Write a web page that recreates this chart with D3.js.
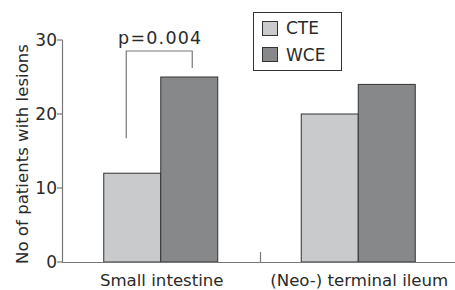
<!DOCTYPE html>
<html>
<head>
<meta charset="utf-8">
<script src="https://cdn.jsdelivr.net/npm/d3@7.9.0/dist/d3.min.js"></script>
<style>
  body { margin: 0; background: #fff; }
  text { font-family: "DejaVu Sans", sans-serif; fill: #2a2a2a; }
</style>
</head>
<body>
<svg id="chart" width="455" height="290"></svg>
<script>
const categories = ['Small intestine', '(Neo-) terminal ileum'];
const series = ['CTE', 'WCE'];
const cteValues = [12, 20];
const wceValues = [25, 24];
const yTicks = [0, 10, 20, 30];
const pLabel = 'p=0.004';

const colors = { CTE: '#c9cacc', WCE: '#87888a' };
const svg = d3.select('#chart');

const x = d3.scaleBand().domain(categories).range([62, 457]).padding(0);
const y = d3.scaleLinear().domain([0, 30]).range([262, 40]);
const barW = 57;
const fs = 16.6;

const axisColor = '#777';

// y axis
svg.append('line')
  .attr('x1', 62.5).attr('x2', 62.5)
  .attr('y1', y(30)).attr('y2', y(0))
  .attr('stroke', axisColor).attr('stroke-width', 1.2);
yTicks.forEach((t) => {
  svg.append('line')
    .attr('x1', 57).attr('x2', 62.5)
    .attr('y1', y(t)).attr('y2', y(t))
    .attr('stroke', axisColor).attr('stroke-width', 1.2);
  svg.append('text')
    .attr('x', 57).attr('y', y(t) + 6)
    .attr('text-anchor', 'end')
    .attr('font-size', 17)
    .text(t);
});

svg.append('text')
  .attr('transform', `translate(28,${(y(0) + y(30)) / 2 + 3}) rotate(-90)`)
  .attr('text-anchor', 'middle')
  .attr('font-size', fs)
  .text('No of patients with lesions');

// bars
categories.forEach((c, i) => {
  const cx = x(c) + x.bandwidth() / 2;
  [['CTE', cteValues[i], cx - barW], ['WCE', wceValues[i], cx]].forEach(([s, v, bx]) => {
    svg.append('rect')
      .attr('x', bx).attr('y', y(v))
      .attr('width', barW).attr('height', y(0) - y(v))
      .attr('fill', colors[s])
      .attr('stroke', '#333').attr('stroke-width', 1);
  });
  svg.append('text')
    .attr('x', cx + 1).attr('y', 286)
    .attr('text-anchor', 'middle')
    .attr('font-size', fs)
    .text(c);
});

// x axis
svg.append('line')
  .attr('x1', 62).attr('x2', 455)
  .attr('y1', y(0) + 0.5).attr('y2', y(0) + 0.5)
  .attr('stroke', axisColor).attr('stroke-width', 1.2);
svg.append('line')
  .attr('x1', x(categories[1]) + 1).attr('x2', x(categories[1]) + 1)
  .attr('y1', y(0) - 10).attr('y2', y(0))
  .attr('stroke', axisColor).attr('stroke-width', 1.2);

// significance bracket
const c0 = x(categories[0]) + x.bandwidth() / 2;
const bx1 = c0 - barW / 2 - 6;
const bx2 = c0 + barW / 2 + 3;
const by = 51;
svg.append('path')
  .attr('d', `M${bx1},${y(cteValues[0]) - 35}V${by}H${bx2}V${y(wceValues[0]) - 9}`)
  .attr('fill', 'none').attr('stroke', axisColor).attr('stroke-width', 1.2);
svg.append('text')
  .attr('x', (bx1 + bx2) / 2 + 1).attr('y', 44)
  .attr('text-anchor', 'middle')
  .attr('font-size', 17.5)
  .attr('letter-spacing', 1.2)
  .text(pLabel);

// legend
const lg = svg.append('g');
lg.append('rect')
  .attr('x', 253.5).attr('y', 12.5).attr('width', 88).attr('height', 58)
  .attr('fill', '#fff').attr('stroke', '#333').attr('stroke-width', 1);
series.forEach((s, i) => {
  lg.append('rect')
    .attr('x', 262.5).attr('y', 21.5 + i * 26).attr('width', 15).attr('height', 14)
    .attr('fill', colors[s]).attr('stroke', '#333').attr('stroke-width', 1);
  lg.append('text')
    .attr('x', 286).attr('y', 34 + i * 27)
    .attr('font-size', 17)
    .text(s);
});
</script>
</body>
</html>
